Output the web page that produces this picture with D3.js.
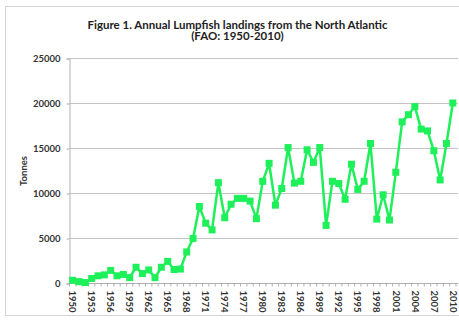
<!DOCTYPE html>
<html><head><meta charset="utf-8">
<script src="https://cdn.jsdelivr.net/npm/d3@7"></script>
<style>html,body{margin:0;padding:0;background:#fff;}svg{display:block;}</style>
</head><body>
<script>
const years = d3.range(1950, 2011);
const landings = [300,150,50,500,800,900,1400,800,950,600,
  1750,1050,1450,600,1750,2400,1500,1550,3450,4950,
  8500,6650,5900,11150,7250,8750,9400,9400,9100,7150,
  11300,13300,8650,10500,15050,11100,11300,14800,13400,15050,
  6400,11300,11050,9300,13200,10400,11300,15500,7100,9800,
  7000,12300,17900,18700,19600,17100,16900,14700,11450,15500,20000];
const yTicks = [0,5000,10000,15000,20000,25000];
const xLabelYears = d3.range(1950, 2011, 3);
const titleLines = ["Figure 1. Annual Lumpfish landings from the North Atlantic", "(FAO: 1950-2010)"];
const yTitle = "Tonnes";

(function () {
const W = 459, H = 320;
const pL = 69.5, pR = 456, pT = 58, pB = 283, gridR = 458;
const svg = d3.select("body").append("svg").attr("width", W).attr("height", H);
const font = "Lato, 'Open Sans', sans-serif";

svg.append("rect").attr("x", 5.5).attr("y", 6.5).attr("width", 470).attr("height", 309)
  .attr("fill", "#fff").attr("stroke", "#d4d4d4").attr("stroke-width", 1);

const x = d3.scaleBand().domain(years).range([pL, pR]).padding(0);
const y = d3.scaleLinear().domain([0, 25000]).range([pB, pT]);

svg.append("g").selectAll("line").data(yTicks.filter(d => d > 0)).join("line")
  .attr("x1", pL).attr("x2", gridR).attr("y1", d => y(d) + 0.5).attr("y2", d => y(d) + 0.5)
  .attr("stroke", "#c4c4c4").attr("stroke-width", 1);

const yAxis = svg.append("g").attr("transform", `translate(${pL},0.5)`)
  .call(d3.axisLeft(y).tickValues(yTicks).tickSize(3).tickPadding(6).tickFormat(d3.format("d")));
yAxis.select(".domain").attr("stroke", "#b0b0b0");
yAxis.selectAll(".tick line").attr("stroke", "#b0b0b0");
yAxis.selectAll("text").attr("font-family", font).attr("font-weight", "bold").attr("font-size", 9.5).attr("fill", "#333");

const xg = svg.append("g").attr("transform", `translate(0,${pB + 0.5})`);
xg.append("line").attr("x1", pL).attr("x2", gridR).attr("stroke", "#b0b0b0");
xg.selectAll("line.tk").data(years.concat([2011])).join("line").attr("class", "tk")
  .attr("x1", d => d <= 2010 ? x(d) : pR).attr("x2", d => d <= 2010 ? x(d) : pR)
  .attr("y1", 0).attr("y2", 3).attr("stroke", "#b0b0b0");
xg.selectAll("text").data(xLabelYears).join("text")
  .attr("transform", d => `translate(${x(d) + x.bandwidth() / 2 - 3.3},7) rotate(90)`)
  .attr("font-family", font).attr("font-weight", "bold").attr("font-size", 9.5).attr("fill", "#333")
  .attr("text-anchor", "start").text(d => d);

const cx = d => x(d) + x.bandwidth() / 2;
const data = years.map((yr, i) => ({yr, v: landings[i]}));
svg.append("path").datum(data)
  .attr("d", d3.line().x(d => cx(d.yr)).y(d => y(d.v)))
  .attr("fill", "none").attr("stroke", "#1ef05a").attr("stroke-width", 2.5).attr("stroke-linejoin", "round");
svg.append("g").selectAll("rect").data(data).join("rect")
  .attr("x", d => cx(d.yr) - 3.5).attr("y", d => y(d.v) - 3.5).attr("width", 7).attr("height", 7)
  .attr("fill", "#1ef05a");

svg.append("g").selectAll("text").data(titleLines).join("text")
  .attr("x", 237.5).attr("y", (d, i) => 28.5 + i * 11.8)
  .attr("text-anchor", "middle").attr("font-family", font).attr("font-weight", "bold")
  .attr("font-size", 11.5).attr("fill", "#222").text(d => d);

svg.append("text").attr("transform", "translate(27,171) rotate(-90)")
  .attr("text-anchor", "middle").attr("font-family", font).attr("font-weight", "bold")
  .attr("font-size", 9.5).attr("fill", "#333").text(yTitle);
})();
</script>
</body></html>
